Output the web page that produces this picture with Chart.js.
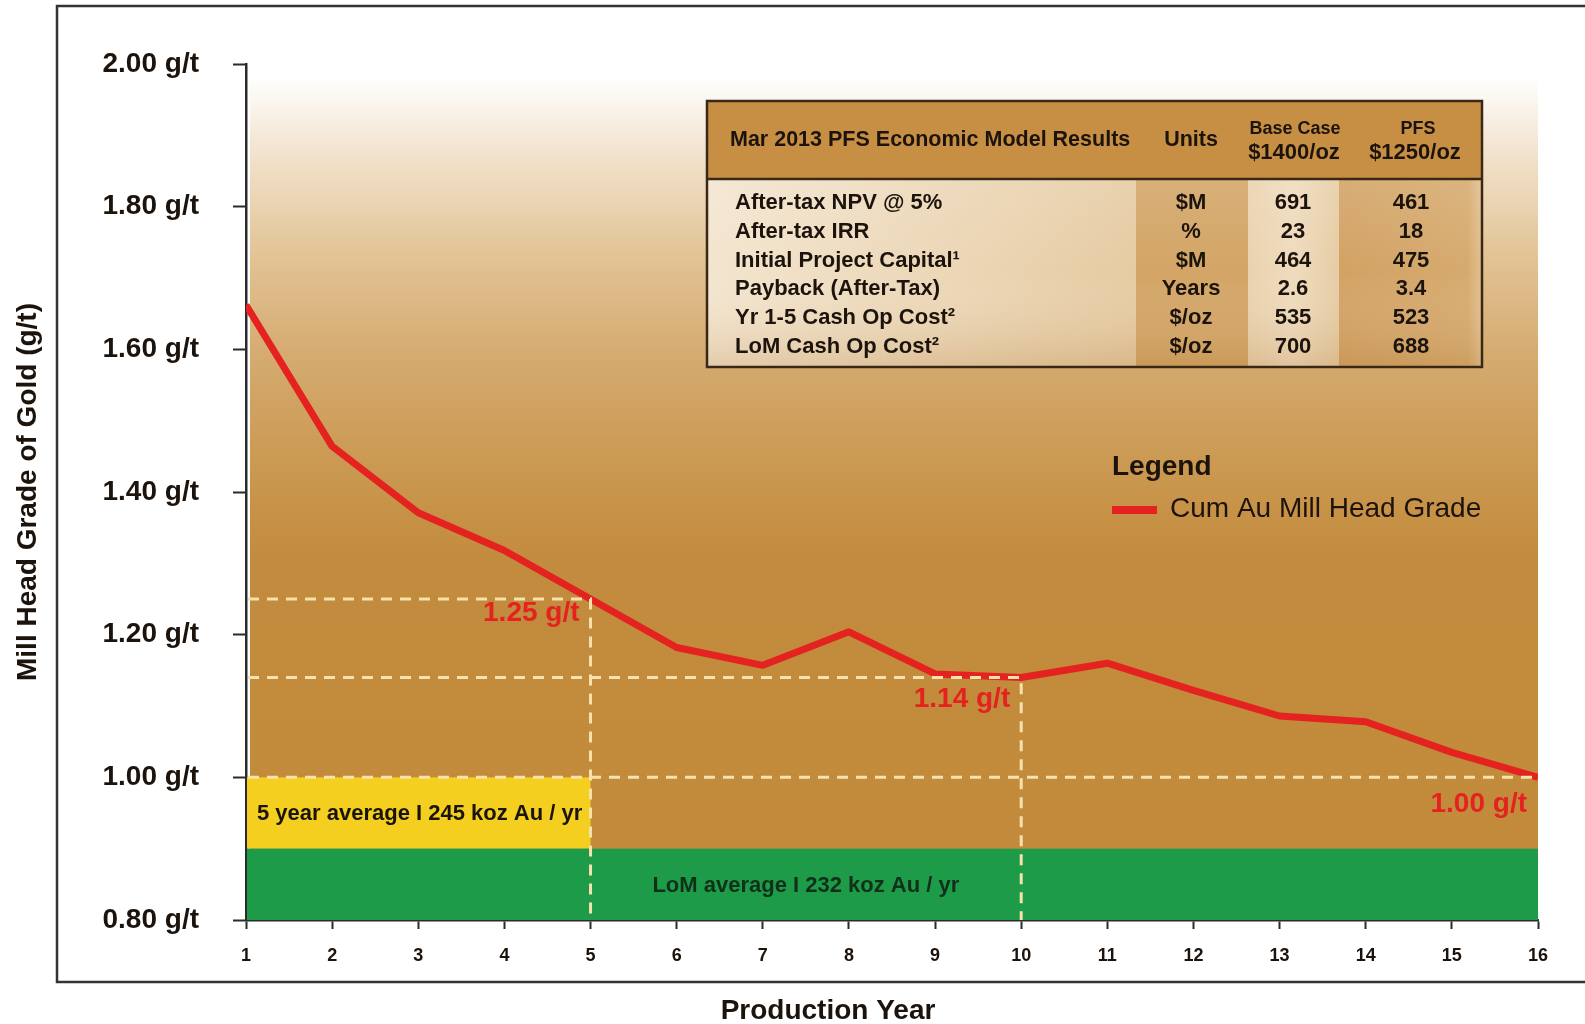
<!DOCTYPE html>
<html>
<head>
<meta charset="utf-8">
<title>Cumulative Mill Head Grade</title>
<script src="https://cdn.jsdelivr.net/npm/chart.js@4.4.1/dist/chart.umd.min.js"></script>
<style>
  html, body { margin: 0; padding: 0; background: #ffffff; }
  canvas { display: block; }
</style>
</head>
<body>
<canvas id="grade" width="1585" height="1024"></canvas>
<script>
// ---- data ----
const years = [1, 2, 3, 4, 5, 6, 7, 8, 9, 10, 11, 12, 13, 14, 15, 16];
const cumGrade = [1.662, 1.464, 1.371, 1.318, 1.25, 1.182, 1.157, 1.204, 1.145, 1.14, 1.160, 1.122, 1.086, 1.078, 1.035, 1.00];
const seriesName = 'Cum Au Mill Head Grade';
const yTickValues = [0.80, 1.00, 1.20, 1.40, 1.60, 1.80, 2.00];
const yUnit = ' g/t';

// reference grades marked with dashed guides
const guideYears = [5, 10, 16];
const guideGrades = [1.25, 1.14, 1.00];
const guideLabels = ['1.25 g/t', '1.14 g/t', '1.00 g/t'];

// production bands
const bandYearFrom = [1, 1];
const bandYearTo = [5, 16];
const bandGradeLow = [0.90, 0.80];
const bandGradeHigh = [1.00, 0.90];
const bandLabels = ['5 year average I 245 koz Au / yr', 'LoM average I 232 koz Au / yr'];

// economic model table
const tableTitle = 'Mar 2013 PFS Economic Model Results';
const tableUnitsHead = 'Units';
const baseHead = ['Base Case', '$1400/oz'];
const pfsHead = ['PFS', '$1250/oz'];
const tableItems = ['After-tax NPV @ 5%', 'After-tax IRR', 'Initial Project Capital\u00B9', 'Payback (After-Tax)', 'Yr 1-5 Cash Op Cost\u00B2', 'LoM Cash Op Cost\u00B2'];
const tableUnits = ['$M', '%', '$M', 'Years', '$/oz', '$/oz'];
const baseCase = ['691', '23', '464', '2.6', '535', '700'];
const pfsCase = ['461', '18', '475', '3.4', '523', '688'];

// ---- styling ----
const FONT = '"Liberation Sans", Arial, Helvetica, sans-serif';
const INK = '#1c140c';
const AXIS = '#2b2b2b';
const RED = '#E4221F';
const DASH = '#F7E2AE';
const calloutDy = [14, 22, 27];   // vertical offset of each value call-out below its guide

function fnt(weight, size) { return weight + ' ' + size + 'px ' + FONT; }

// warm background fading in from white at the top of the plot
const backdrop = {
  id: 'backdrop',
  beforeDatasetsDraw(chart) {
    const { ctx, chartArea: a } = chart;
    ctx.save();
    const g = ctx.createLinearGradient(0, a.top, 0, a.bottom);
    const h = a.bottom - a.top;
    const stop = (y) => Math.min(1, Math.max(0, (y - a.top) / h));
    g.addColorStop(0, '#ffffff');
    g.addColorStop(stop(76), '#ffffff');
    g.addColorStop(stop(150), '#F2E4CF');
    g.addColorStop(stop(250), '#E3C597');
    g.addColorStop(stop(350), '#D6AC72');
    g.addColorStop(stop(450), '#CC9B55');
    g.addColorStop(stop(560), '#C38B3D');
    g.addColorStop(1, '#C28A3A');
    ctx.fillStyle = g;
    ctx.fillRect(a.left + 4, a.top, a.right - a.left - 4, h);

    // production bands
    const x = chart.scales.x, y = chart.scales.y;
    const bandFill = ['#F4CF1F', '#1E9B48'];
    for (let i = 0; i < bandLabels.length; i++) {
      const x0 = x.getPixelForValue(bandYearFrom[i]);
      const x1 = x.getPixelForValue(bandYearTo[i]);
      const y0 = y.getPixelForValue(bandGradeHigh[i]);
      const y1 = y.getPixelForValue(bandGradeLow[i]);
      ctx.fillStyle = bandFill[i];
      ctx.fillRect(x0 + 1, y0, x1 - x0 - 1, y1 - y0);
    }
    ctx.restore();
  }
};

// dashed guides, value call-outs, band captions, legend, table and frame
const overlay = {
  id: 'overlay',
  afterDatasetsDraw(chart) {
    const { ctx, chartArea: a } = chart;
    const x = chart.scales.x, y = chart.scales.y;
    ctx.save();
    ctx.strokeStyle = DASH;
    ctx.lineWidth = 3;
    ctx.setLineDash([11, 8]);
    for (let i = 0; i < guideGrades.length; i++) {
      const gx = x.getPixelForValue(guideYears[i]);
      const gy = y.getPixelForValue(guideGrades[i]);
      ctx.beginPath();
      ctx.moveTo(a.left + 2, gy);
      ctx.lineTo(gx, gy);
      if (guideYears[i] < years[years.length - 1]) {
        ctx.lineTo(gx, a.bottom);
      }
      ctx.stroke();
    }
    ctx.setLineDash([]);

    // value call-outs
    ctx.fillStyle = RED;
    ctx.font = fnt('bold', 28);
    ctx.textAlign = 'right';
    ctx.textBaseline = 'middle';
    for (let i = 0; i < guideGrades.length; i++) {
      const gx = x.getPixelForValue(guideYears[i]);
      const gy = y.getPixelForValue(guideGrades[i]);
      ctx.fillText(guideLabels[i], gx - 11, gy + calloutDy[i]);
    }

    // band captions
    ctx.font = fnt('bold', 22);
    ctx.textBaseline = 'middle';
    ctx.fillStyle = '#1a1408';
    ctx.textAlign = 'left';
    ctx.fillText(bandLabels[0], x.getPixelForValue(bandYearFrom[0]) + 11,
      y.getPixelForValue((bandGradeLow[0] + bandGradeHigh[0]) / 2) + 1);
    ctx.fillStyle = '#10301a';
    ctx.textAlign = 'center';
    ctx.fillText(bandLabels[1], x.getPixelForValue(7.5),
      y.getPixelForValue((bandGradeLow[1] + bandGradeHigh[1]) / 2) + 2);
    ctx.restore();
  },
  afterDraw(chart) {
    const { ctx } = chart;
    ctx.save();

    // legend
    const ds = chart.data.datasets[0];
    ctx.fillStyle = INK;
    ctx.textAlign = 'left';
    ctx.textBaseline = 'middle';
    ctx.font = fnt('bold', 28);
    ctx.fillText('Legend', 1112, 467);
    ctx.strokeStyle = ds.borderColor;
    ctx.lineWidth = 8;
    ctx.beginPath();
    ctx.moveTo(1112, 510);
    ctx.lineTo(1157, 510);
    ctx.stroke();
    ctx.font = fnt('normal', 28);
    ctx.fillText(ds.label, 1170, 509);

    drawTable(ctx);

    // outer frame
    ctx.strokeStyle = '#333333';
    ctx.lineWidth = 2.5;
    ctx.beginPath();
    ctx.moveTo(1585, 6);
    ctx.lineTo(57, 6);
    ctx.lineTo(57, 982);
    ctx.lineTo(1585, 982);
    ctx.stroke();

    // x axis title
    ctx.fillStyle = INK;
    ctx.font = fnt('bold', 28);
    ctx.textAlign = 'center';
    ctx.textBaseline = 'middle';
    ctx.fillText('Production Year', 828, 1011);
    ctx.restore();
  }
};

function drawTable(ctx) {
  const L = 707, R = 1482, T = 101, H = 179, B = 367;
  const cols = [707, 1136, 1248, 1339, 1482];

  // header band
  ctx.fillStyle = '#C78F43';
  ctx.fillRect(L, T, R - L, H - T);

  // body columns
  let g = ctx.createLinearGradient(cols[0], 0, cols[1], 0);
  g.addColorStop(0, '#F3E5CF');
  g.addColorStop(1, '#E6CBA2');
  ctx.fillStyle = g;
  ctx.fillRect(cols[0], H, cols[1] - cols[0], B - H);
  ctx.fillStyle = '#D3A566';
  ctx.fillRect(cols[1], H, cols[2] - cols[1], B - H);
  g = ctx.createLinearGradient(cols[2], 0, cols[3], 0);
  g.addColorStop(0, '#EAD2AE');
  g.addColorStop(0.5, '#EFDBBD');
  g.addColorStop(1, '#E6CCA4');
  ctx.fillStyle = g;
  ctx.fillRect(cols[2], H, cols[3] - cols[2], B - H);
  g = ctx.createLinearGradient(cols[3], 0, cols[4], 0);
  g.addColorStop(0, '#D2A264');
  g.addColorStop(0.9, '#D6AA6E');
  g.addColorStop(1, '#E2C08F');
  ctx.fillStyle = g;
  ctx.fillRect(cols[3], H, cols[4] - cols[3], B - H);

  // body darkens slightly toward the bottom
  g = ctx.createLinearGradient(0, H, 0, B);
  g.addColorStop(0, 'rgba(255,255,255,0.12)');
  g.addColorStop(0.5, 'rgba(255,255,255,0)');
  g.addColorStop(1, 'rgba(170,110,40,0.22)');
  ctx.fillStyle = g;
  ctx.fillRect(L, H, R - L, B - H);

  // borders
  ctx.strokeStyle = '#3A2816';
  ctx.lineWidth = 2.5;
  ctx.strokeRect(L, T, R - L, B - T);
  ctx.beginPath();
  ctx.moveTo(L, H);
  ctx.lineTo(R, H);
  ctx.stroke();

  // header text
  ctx.fillStyle = INK;
  ctx.textBaseline = 'middle';
  ctx.font = fnt('bold', 21.5);
  ctx.textAlign = 'left';
  ctx.fillText(tableTitle, 730, 140);
  ctx.textAlign = 'center';
  ctx.fillText(tableUnitsHead, 1191, 140);
  ctx.font = fnt('bold', 18);
  ctx.fillText(baseHead[0], 1295, 129);
  ctx.fillText(pfsHead[0], 1418, 129);
  ctx.font = fnt('bold', 22);
  ctx.fillText(baseHead[1], 1294, 153);
  ctx.fillText(pfsHead[1], 1415, 153);

  // body rows
  ctx.font = fnt('bold', 22);
  for (let i = 0; i < tableItems.length; i++) {
    const ry = 203 + i * 28.8;
    ctx.textAlign = 'left';
    ctx.fillText(tableItems[i], 735, ry);
    ctx.textAlign = 'center';
    ctx.fillText(tableUnits[i], 1191, ry);
    ctx.fillText(baseCase[i], 1293, ry);
    ctx.fillText(pfsCase[i], 1411, ry);
  }
}

new Chart(document.getElementById('grade'), {
  type: 'line',
  data: {
    datasets: [{
      label: seriesName,
      data: years.map((yr, i) => ({ x: yr, y: cumGrade[i] })),
      borderColor: RED,
      borderWidth: 7,
      borderJoinStyle: 'round',
      borderCapStyle: 'butt',
      pointRadius: 0,
      tension: 0,
      fill: false
    }]
  },
  options: {
    responsive: false,
    animation: false,
    events: [],
    layout: { padding: { left: 0, top: 64, right: 47, bottom: 0 } },
    plugins: {
      legend: { display: false },
      tooltip: { enabled: false },
      title: { display: false }
    },
    scales: {
      x: {
        type: 'linear',
        min: years[0],
        max: years[years.length - 1],
        afterBuildTicks(scale) { scale.ticks = years.map(v => ({ value: v })); },
        afterFit(scale) { scale.height = 104; },
        ticks: {
          autoSkip: false,
          maxRotation: 0,
          color: INK,
          font: { family: FONT, size: 18, weight: 'bold' },
          padding: 16,
          callback: (v) => String(v)
        },
        grid: { drawOnChartArea: false, tickLength: 9, color: AXIS, tickWidth: 2 },
        border: { color: AXIS, width: 2.5 }
      },
      y: {
        type: 'linear',
        min: yTickValues[0],
        max: yTickValues[yTickValues.length - 1],
        afterBuildTicks(scale) { scale.ticks = yTickValues.map(v => ({ value: v })); },
        afterFit(scale) { scale.width = 246; },
        ticks: {
          color: INK,
          font: { family: FONT, size: 28, weight: 'bold' },
          padding: 34,
          callback: (v) => Number(v).toFixed(2) + yUnit
        },
        grid: { drawOnChartArea: false, tickLength: 13, color: AXIS, tickWidth: 2 },
        border: { color: AXIS, width: 2.5 },
        title: {
          display: true,
          text: 'Mill Head Grade of Gold (g/t)',
          color: INK,
          font: { family: FONT, size: 28, weight: 'bold', lineHeight: 1 },
          padding: { top: 14, bottom: 0 }
        }
      }
    }
  },
  plugins: [backdrop, overlay]
});
</script>
</body>
</html>
